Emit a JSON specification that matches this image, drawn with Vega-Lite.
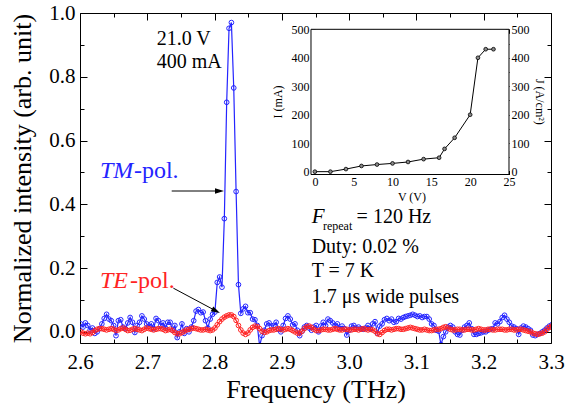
{
"$schema":"https://vega.github.io/schema/vega-lite/v6.json",
"width":471,"height":330,
"autosize":{"type":"none"},
"padding":{"left":80,"top":13,"right":18,"bottom":62},
"background":"white",
"config":{"font":"Liberation Serif","view":{"stroke":null},
"axis":{"grid":false,"labelFont":"Liberation Serif","titleFont":"Liberation Serif","titleFontWeight":"normal","labelColor":"black","titleColor":"black","tickColor":"black","domainColor":"black","labelFlush":false,"labelOverlap":false,"tickWidth":1,"domainWidth":1}},
"data":{"values":[
{"f":2.601,"tm":0.025,"te":0.0},{"f":2.6045,"tm":0.015,"te":-0.004},{"f":2.608,"tm":0.028,"te":-0.006},{"f":2.6115,"tm":0.02,"te":-0.004},{"f":2.615,"tm":0.005,"te":-0.006},{"f":2.6185,"tm":0.012,"te":-0.002},{"f":2.622,"tm":-0.005,"te":0.004},{"f":2.6255,"tm":0.0,"te":0.008},{"f":2.629,"tm":0.01,"te":0.01},{"f":2.6325,"tm":0.025,"te":0.01},
{"f":2.636,"tm":0.042,"te":0.008},{"f":2.6395,"tm":0.055,"te":0.006},{"f":2.643,"tm":0.04,"te":0.008},{"f":2.6465,"tm":0.035,"te":0.01},{"f":2.65,"tm":0.02,"te":0.008},{"f":2.6535,"tm":-0.012,"te":0.004},{"f":2.657,"tm":0.035,"te":0.006},{"f":2.6605,"tm":0.038,"te":0.01},{"f":2.664,"tm":0.015,"te":0.012},{"f":2.6675,"tm":0.01,"te":0.008},
{"f":2.671,"tm":0.028,"te":0.004},{"f":2.6745,"tm":0.045,"te":0.005},{"f":2.678,"tm":0.03,"te":0.008},{"f":2.6815,"tm":-0.002,"te":0.01},{"f":2.685,"tm":0.02,"te":0.008},{"f":2.6885,"tm":0.03,"te":0.006},{"f":2.692,"tm":0.05,"te":0.004},{"f":2.6955,"tm":0.04,"te":0.008},{"f":2.699,"tm":0.025,"te":0.012},{"f":2.7025,"tm":0.018,"te":0.01},
{"f":2.706,"tm":0.025,"te":0.008},{"f":2.7095,"tm":0.01,"te":0.006},{"f":2.713,"tm":0.042,"te":0.008},{"f":2.7165,"tm":0.035,"te":0.01},{"f":2.72,"tm":0.02,"te":0.01},{"f":2.7235,"tm":0.028,"te":0.008},{"f":2.727,"tm":0.012,"te":0.004},{"f":2.7305,"tm":0.03,"te":0.006},{"f":2.734,"tm":0.03,"te":0.008},{"f":2.7375,"tm":0.005,"te":0.004},
{"f":2.741,"tm":0.02,"te":-0.002},{"f":2.7445,"tm":-0.018,"te":-0.006},{"f":2.748,"tm":0.0,"te":-0.006},{"f":2.7515,"tm":0.025,"te":-0.002},{"f":2.755,"tm":-0.005,"te":0.002},{"f":2.7585,"tm":0.01,"te":0.006},{"f":2.762,"tm":0.0,"te":0.008},{"f":2.7655,"tm":0.015,"te":0.01},{"f":2.769,"tm":0.035,"te":0.012},{"f":2.7725,"tm":0.065,"te":0.01},
{"f":2.776,"tm":0.07,"te":0.008},{"f":2.7795,"tm":0.06,"te":0.006},{"f":2.783,"tm":0.062,"te":0.006},{"f":2.7865,"tm":0.035,"te":0.008},{"f":2.79,"tm":0.012,"te":0.006},{"f":2.7935,"tm":0.04,"te":0.004},{"f":2.797,"tm":0.055,"te":0.006},{"f":2.8005,"tm":0.062,"te":0.012},{"f":2.804,"tm":0.155,"te":0.022},{"f":2.8075,"tm":0.172,"te":0.032},
{"f":2.811,"tm":0.14,"te":0.04},{"f":2.8145,"tm":0.355,"te":0.046},{"f":2.818,"tm":0.72,"te":0.05},{"f":2.8215,"tm":0.952,"te":0.053},{"f":2.825,"tm":0.97,"te":0.053},{"f":2.8285,"tm":0.765,"te":0.048},{"f":2.832,"tm":0.44,"te":0.036},{"f":2.8355,"tm":0.148,"te":0.02},{"f":2.839,"tm":0.058,"te":0.006},{"f":2.8425,"tm":0.072,"te":-0.004},
{"f":2.846,"tm":0.08,"te":-0.008},{"f":2.8495,"tm":0.06,"te":-0.004},{"f":2.853,"tm":0.06,"te":0.006},{"f":2.8565,"tm":0.04,"te":0.014},{"f":2.86,"tm":0.038,"te":0.018},{"f":2.8635,"tm":0.02,"te":0.016},{"f":2.867,"tm":-0.045,"te":0.01},{"f":2.8705,"tm":-0.012,"te":0.002},{"f":2.874,"tm":0.005,"te":-0.002},{"f":2.8775,"tm":0.025,"te":0.0},
{"f":2.881,"tm":0.028,"te":0.004},{"f":2.8845,"tm":0.018,"te":0.006},{"f":2.888,"tm":0.02,"te":0.006},{"f":2.8915,"tm":0.03,"te":0.008},{"f":2.895,"tm":0.008,"te":0.01},{"f":2.8985,"tm":0.0,"te":0.008},{"f":2.902,"tm":0.02,"te":0.006},{"f":2.9055,"tm":0.042,"te":0.008},{"f":2.909,"tm":0.05,"te":0.01},{"f":2.9125,"tm":0.04,"te":0.008},
{"f":2.916,"tm":0.022,"te":0.004},{"f":2.9195,"tm":0.025,"te":0.0},{"f":2.923,"tm":0.005,"te":-0.004},{"f":2.9265,"tm":-0.012,"te":-0.004},{"f":2.93,"tm":0.002,"te":0.002},{"f":2.9335,"tm":0.015,"te":0.01},{"f":2.937,"tm":0.02,"te":0.016},{"f":2.9405,"tm":0.012,"te":0.018},{"f":2.944,"tm":0.005,"te":0.014},{"f":2.9475,"tm":0.015,"te":0.008},
{"f":2.951,"tm":0.02,"te":0.004},{"f":2.9545,"tm":0.0,"te":0.004},{"f":2.958,"tm":0.018,"te":0.006},{"f":2.9615,"tm":0.03,"te":0.008},{"f":2.965,"tm":0.02,"te":0.008},{"f":2.9685,"tm":0.04,"te":0.006},{"f":2.972,"tm":0.035,"te":0.006},{"f":2.9755,"tm":0.028,"te":0.008},{"f":2.979,"tm":0.02,"te":0.01},{"f":2.9825,"tm":0.025,"te":0.008},
{"f":2.986,"tm":0.01,"te":0.006},{"f":2.9895,"tm":0.018,"te":0.006},{"f":2.993,"tm":0.01,"te":0.008},{"f":2.9965,"tm":-0.01,"te":0.008},{"f":3.0,"tm":0.005,"te":0.006},{"f":3.0035,"tm":0.018,"te":0.006},{"f":3.007,"tm":0.02,"te":0.008},{"f":3.0105,"tm":0.012,"te":0.008},{"f":3.014,"tm":0.015,"te":0.006},{"f":3.0175,"tm":0.01,"te":0.008},
{"f":3.021,"tm":0.008,"te":0.01},{"f":3.0245,"tm":0.012,"te":0.008},{"f":3.028,"tm":0.02,"te":0.006},{"f":3.0315,"tm":0.01,"te":0.008},{"f":3.035,"tm":0.025,"te":0.006},{"f":3.0385,"tm":0.032,"te":0.002},{"f":3.042,"tm":-0.004,"te":-0.006},{"f":3.0455,"tm":0.018,"te":-0.008},{"f":3.049,"tm":0.025,"te":-0.002},{"f":3.0525,"tm":0.038,"te":0.004},
{"f":3.056,"tm":0.042,"te":0.008},{"f":3.0595,"tm":0.035,"te":0.008},{"f":3.063,"tm":0.04,"te":0.006},{"f":3.0665,"tm":0.03,"te":0.008},{"f":3.07,"tm":0.032,"te":0.01},{"f":3.0735,"tm":0.042,"te":0.01},{"f":3.077,"tm":0.04,"te":0.008},{"f":3.0805,"tm":0.045,"te":0.008},{"f":3.084,"tm":0.048,"te":0.01},{"f":3.0875,"tm":0.05,"te":0.012},
{"f":3.091,"tm":0.052,"te":0.014},{"f":3.0945,"tm":0.055,"te":0.012},{"f":3.098,"tm":0.052,"te":0.01},{"f":3.1015,"tm":0.048,"te":0.008},{"f":3.105,"tm":0.05,"te":0.006},{"f":3.1085,"tm":0.045,"te":0.006},{"f":3.112,"tm":0.048,"te":0.008},{"f":3.1155,"tm":0.048,"te":0.006},{"f":3.119,"tm":0.04,"te":0.004},{"f":3.1225,"tm":0.025,"te":0.004},
{"f":3.126,"tm":0.02,"te":0.006},{"f":3.1295,"tm":0.005,"te":0.008},{"f":3.133,"tm":0.002,"te":0.008},{"f":3.1365,"tm":-0.04,"te":0.01},{"f":3.14,"tm":-0.015,"te":0.014},{"f":3.1435,"tm":0.0,"te":0.016},{"f":3.147,"tm":0.015,"te":0.012},{"f":3.1505,"tm":0.02,"te":0.008},{"f":3.154,"tm":0.015,"te":0.006},{"f":3.1575,"tm":0.0,"te":0.006},
{"f":3.161,"tm":-0.008,"te":0.008},{"f":3.1645,"tm":-0.01,"te":0.008},{"f":3.168,"tm":0.005,"te":0.006},{"f":3.1715,"tm":0.015,"te":0.006},{"f":3.175,"tm":0.02,"te":0.008},{"f":3.1785,"tm":0.028,"te":0.008},{"f":3.182,"tm":0.01,"te":0.006},{"f":3.1855,"tm":-0.008,"te":0.006},{"f":3.189,"tm":-0.008,"te":0.008},{"f":3.1925,"tm":-0.005,"te":0.01},
{"f":3.196,"tm":-0.003,"te":0.008},{"f":3.1995,"tm":0.0,"te":0.006},{"f":3.203,"tm":0.0,"te":0.006},{"f":3.2065,"tm":0.005,"te":0.008},{"f":3.21,"tm":0.008,"te":0.008},{"f":3.2135,"tm":0.01,"te":0.006},{"f":3.217,"tm":0.028,"te":0.006},{"f":3.2205,"tm":0.025,"te":0.008},{"f":3.224,"tm":0.032,"te":0.008},{"f":3.2275,"tm":0.045,"te":0.008},
{"f":3.231,"tm":0.052,"te":0.006},{"f":3.2345,"tm":0.04,"te":0.006},{"f":3.238,"tm":0.03,"te":0.008},{"f":3.2415,"tm":0.018,"te":0.008},{"f":3.245,"tm":0.015,"te":0.006},{"f":3.2485,"tm":0.01,"te":0.006},{"f":3.252,"tm":-0.008,"te":0.008},{"f":3.2555,"tm":0.012,"te":0.008},{"f":3.259,"tm":0.018,"te":0.006},{"f":3.2625,"tm":0.015,"te":0.004},
{"f":3.266,"tm":0.01,"te":0.002},{"f":3.2695,"tm":0.005,"te":0.0},{"f":3.273,"tm":-0.01,"te":-0.004},{"f":3.2765,"tm":-0.012,"te":-0.006},{"f":3.28,"tm":-0.008,"te":-0.008},{"f":3.2835,"tm":-0.005,"te":-0.006},{"f":3.287,"tm":0.0,"te":-0.004},{"f":3.2905,"tm":0.005,"te":0.0},{"f":3.294,"tm":0.012,"te":0.008},{"f":3.2975,"tm":0.018,"te":0.014},
{"f":3.301,"tm":0.022,"te":0.018}
]},
"resolve":{"scale":{"x":"independent","y":"independent"},"axis":{"x":"independent","y":"independent"}},
"layer":[
{"mark":{"type":"line","color":"#2424ff","strokeWidth":1.2,"clip":true},
 "encoding":{
  "x":{"field":"f","type":"quantitative","scale":{"domain":[2.6,3.3],"nice":false,"zero":false},"axis":{"orient":"bottom","values":[2.6,2.7,2.8,2.9,3.0,3.1,3.2,3.3],"format":".1f","tickSize":-7,"labelFontSize":21,"labelPadding":15,"title":"Frequency (THz)","titleFontSize":26,"titlePadding":4}},
  "y":{"field":"tm","type":"quantitative","scale":{"domain":[-0.035,1.0],"nice":false,"zero":false},"axis":{"orient":"left","values":[0,0.2,0.4,0.6,0.8,1.0],"format":".1f","tickSize":-7,"labelFontSize":21,"labelPadding":12,"title":"Normalized intensity (arb. unit)","titleFontSize":26,"titlePadding":13}}}},
{"mark":{"type":"point","filled":false,"size":22,"stroke":"#2424ff","strokeWidth":1,"opacity":1,"clip":true},
 "encoding":{
  "x":{"field":"f","type":"quantitative","scale":{"domain":[2.6,3.3],"nice":false,"zero":false},"axis":{"orient":"bottom","values":[2.65,2.75,2.85,2.95,3.05,3.15,3.25],"tickSize":-4,"labels":false,"domain":false,"title":null}},
  "y":{"field":"tm","type":"quantitative","scale":{"domain":[-0.035,1.0],"nice":false,"zero":false},"axis":{"orient":"left","values":[0.1,0.3,0.5,0.7,0.9],"tickSize":-4,"labels":false,"domain":false,"title":null}}}},
{"mark":{"type":"line","color":"#ff2424","strokeWidth":1.2,"clip":true},
 "encoding":{
  "x":{"field":"f","type":"quantitative","scale":{"domain":[2.6,3.3],"nice":false,"zero":false},"axis":{"orient":"top","values":[2.6,2.7,2.8,2.9,3.0,3.1,3.2,3.3],"tickSize":-7,"labels":false,"title":null}},
  "y":{"field":"te","type":"quantitative","scale":{"domain":[-0.035,1.0],"nice":false,"zero":false},"axis":{"orient":"right","values":[0,0.2,0.4,0.6,0.8,1.0],"tickSize":-7,"labels":false,"title":null}}}},
{"mark":{"type":"point","filled":false,"size":22,"stroke":"#ff2424","strokeWidth":1,"opacity":1,"clip":true},
 "encoding":{
  "x":{"field":"f","type":"quantitative","scale":{"domain":[2.6,3.3],"nice":false,"zero":false},"axis":{"orient":"top","values":[2.65,2.75,2.85,2.95,3.05,3.15,3.25],"tickSize":-4,"labels":false,"domain":false,"title":null}},
  "y":{"field":"te","type":"quantitative","scale":{"domain":[-0.035,1.0],"nice":false,"zero":false},"axis":{"orient":"right","values":[0.1,0.3,0.5,0.7,0.9],"tickSize":-4,"labels":false,"domain":false,"title":null}}}},
{"data":{"values":[{}]},"mark":{"type":"rule","color":"black","strokeWidth":1},
 "encoding":{"x":{"datum":2.7363,"type":"quantitative","scale":{"domain":[2.6,3.3],"nice":false,"zero":false},"axis":null},"x2":{"datum":2.8073},
  "y":{"datum":0.4417,"type":"quantitative","scale":{"domain":[-0.035,1.0],"nice":false,"zero":false},"axis":null}}},
{"data":{"values":[{}]},"mark":{"type":"point","shape":"M -1 -0.6 L 1 0 L -1 0.6 Z","size":81,"filled":true,"color":"black","opacity":1,"angle":0},
 "encoding":{"x":{"datum":2.8073,"type":"quantitative","scale":{"domain":[2.6,3.3],"nice":false,"zero":false},"axis":null},
  "y":{"datum":0.4417,"type":"quantitative","scale":{"domain":[-0.035,1.0],"nice":false,"zero":false},"axis":null}}},
{"data":{"values":[{}]},"mark":{"type":"rule","color":"black","strokeWidth":1},
 "encoding":{"x":{"datum":2.7387,"type":"quantitative","scale":{"domain":[2.6,3.3],"nice":false,"zero":false},"axis":null},"x2":{"datum":2.8021},
  "y":{"datum":0.1371,"type":"quantitative","scale":{"domain":[-0.035,1.0],"nice":false,"zero":false},"axis":null},"y2":{"datum":0.0656}}},
{"data":{"values":[{}]},"mark":{"type":"point","shape":"M -1 -0.6 L 1 0 L -1 0.6 Z","size":81,"filled":true,"color":"black","opacity":1,"angle":27.9},
 "encoding":{"x":{"datum":2.8021,"type":"quantitative","scale":{"domain":[2.6,3.3],"nice":false,"zero":false},"axis":null},
  "y":{"datum":0.0656,"type":"quantitative","scale":{"domain":[-0.035,1.0],"nice":false,"zero":false},"axis":null}}},
{"data":{"values":[{}]},"mark":{"type":"text","text":"21.0 V","align":"left","baseline":"alphabetic","fontSize":20,"font":"Liberation Serif","color":"black"},
 "encoding":{"x":{"datum":2.714,"type":"quantitative","scale":{"domain":[2.6,3.3],"nice":false,"zero":false},"axis":null},
  "y":{"datum":0.9,"type":"quantitative","scale":{"domain":[-0.035,1.0],"nice":false,"zero":false},"axis":null}}},
{"data":{"values":[{}]},"mark":{"type":"text","text":"400 mA","align":"left","baseline":"alphabetic","fontSize":20,"font":"Liberation Serif","color":"black"},
 "encoding":{"x":{"datum":2.714,"type":"quantitative","scale":{"domain":[2.6,3.3],"nice":false,"zero":false},"axis":null},
  "y":{"datum":0.827,"type":"quantitative","scale":{"domain":[-0.035,1.0],"nice":false,"zero":false},"axis":null}}},
{"data":{"values":[{}]},"mark":{"type":"text","text":"TM","align":"left","baseline":"alphabetic","fontSize":24,"fontStyle":"italic","font":"Liberation Serif","color":"#2424ff"},
 "encoding":{"x":{"datum":2.6297,"type":"quantitative","scale":{"domain":[2.6,3.3],"nice":false,"zero":false},"axis":null},
  "y":{"datum":0.4815,"type":"quantitative","scale":{"domain":[-0.035,1.0],"nice":false,"zero":false},"axis":null}}},
{"data":{"values":[{}]},"mark":{"type":"text","text":"-pol.","align":"left","baseline":"alphabetic","fontSize":24,"font":"Liberation Serif","color":"#2424ff"},
 "encoding":{"x":{"datum":2.6802,"type":"quantitative","scale":{"domain":[2.6,3.3],"nice":false,"zero":false},"axis":null},
  "y":{"datum":0.4815,"type":"quantitative","scale":{"domain":[-0.035,1.0],"nice":false,"zero":false},"axis":null}}},
{"data":{"values":[{}]},"mark":{"type":"text","text":"TE","align":"left","baseline":"alphabetic","fontSize":24,"fontStyle":"italic","font":"Liberation Serif","color":"#ff2424"},
 "encoding":{"x":{"datum":2.6297,"type":"quantitative","scale":{"domain":[2.6,3.3],"nice":false,"zero":false},"axis":null},
  "y":{"datum":0.1365,"type":"quantitative","scale":{"domain":[-0.035,1.0],"nice":false,"zero":false},"axis":null}}},
{"data":{"values":[{}]},"mark":{"type":"text","text":"-pol.","align":"left","baseline":"alphabetic","fontSize":24,"font":"Liberation Serif","color":"#ff2424"},
 "encoding":{"x":{"datum":2.6743,"type":"quantitative","scale":{"domain":[2.6,3.3],"nice":false,"zero":false},"axis":null},
  "y":{"datum":0.1365,"type":"quantitative","scale":{"domain":[-0.035,1.0],"nice":false,"zero":false},"axis":null}}},
{"data":{"values":[{}]},"mark":{"type":"text","text":"F","align":"left","baseline":"alphabetic","fontSize":21,"fontStyle":"italic","font":"Liberation Serif","color":"black"},
 "encoding":{"x":{"datum":2.9443,"type":"quantitative","scale":{"domain":[2.6,3.3],"nice":false,"zero":false},"axis":null},
  "y":{"datum":0.3403,"type":"quantitative","scale":{"domain":[-0.035,1.0],"nice":false,"zero":false},"axis":null}}},
{"data":{"values":[{}]},"mark":{"type":"text","text":"repeat","align":"left","baseline":"alphabetic","fontSize":12,"font":"Liberation Serif","color":"black"},
 "encoding":{"x":{"datum":2.9611,"type":"quantitative","scale":{"domain":[2.6,3.3],"nice":false,"zero":false},"axis":null},
  "y":{"datum":0.3193,"type":"quantitative","scale":{"domain":[-0.035,1.0],"nice":false,"zero":false},"axis":null}}},
{"data":{"values":[{}]},"mark":{"type":"text","text":"= 120 Hz","align":"left","baseline":"alphabetic","fontSize":20,"font":"Liberation Serif","color":"black"},
 "encoding":{"x":{"datum":3.0111,"type":"quantitative","scale":{"domain":[2.6,3.3],"nice":false,"zero":false},"axis":null},
  "y":{"datum":0.3403,"type":"quantitative","scale":{"domain":[-0.035,1.0],"nice":false,"zero":false},"axis":null}}},
{"data":{"values":[{}]},"mark":{"type":"text","text":"Duty: 0.02 %","align":"left","baseline":"alphabetic","fontSize":20,"font":"Liberation Serif","color":"black"},
 "encoding":{"x":{"datum":2.9443,"type":"quantitative","scale":{"domain":[2.6,3.3],"nice":false,"zero":false},"axis":null},
  "y":{"datum":0.2481,"type":"quantitative","scale":{"domain":[-0.035,1.0],"nice":false,"zero":false},"axis":null}}},
{"data":{"values":[{}]},"mark":{"type":"text","text":"T = 7 K","align":"left","baseline":"alphabetic","fontSize":20,"font":"Liberation Serif","color":"black"},
 "encoding":{"x":{"datum":2.9443,"type":"quantitative","scale":{"domain":[2.6,3.3],"nice":false,"zero":false},"axis":null},
  "y":{"datum":0.1728,"type":"quantitative","scale":{"domain":[-0.035,1.0],"nice":false,"zero":false},"axis":null}}},
{"data":{"values":[{}]},"mark":{"type":"text","text":"1.7 μs wide pulses","align":"left","baseline":"alphabetic","fontSize":20,"font":"Liberation Serif","color":"black"},
 "encoding":{"x":{"datum":2.9443,"type":"quantitative","scale":{"domain":[2.6,3.3],"nice":false,"zero":false},"axis":null},
  "y":{"datum":0.0913,"type":"quantitative","scale":{"domain":[-0.035,1.0],"nice":false,"zero":false},"axis":null}}},
{"data":{"values":[{}]},"mark":{"type":"rect","fill":"white","stroke":"black","strokeWidth":1},
 "encoding":{"x":{"datum":-0.5,"type":"quantitative","scale":{"domain":[-30.25,30.41],"nice":false,"zero":false},"axis":{"orient":"bottom","offset":-168.5,"values":[0,5,10,15,20,25],"tickSize":-4,"domain":false,"labelFontSize":12,"labelPadding":6,"title":null}},"x2":{"datum":25},
  "y":{"datum":-10,"type":"quantitative","scale":{"domain":[-601.8,557.25],"nice":false,"zero":false},"axis":{"orient":"left","offset":-231,"values":[0,100,200,300,400,500],"tickSize":-4,"domain":false,"labelFontSize":12,"labelPadding":6,"title":null}},"y2":{"datum":500}}},
{"data":{"name":"iv","values":[{"v":0,"i":0},{"v":2,"i":0},{"v":4,"i":9},{"v":6,"i":20},{"v":8,"i":25},{"v":10,"i":29},{"v":12,"i":34},{"v":14,"i":44},{"v":16,"i":49},{"v":16.7,"i":80},{"v":18,"i":119},{"v":20,"i":200},{"v":21,"i":400},{"v":22,"i":430},{"v":23,"i":430}]},
 "mark":{"type":"line","color":"black","strokeWidth":1},
 "encoding":{"x":{"field":"v","type":"quantitative","scale":{"domain":[-30.25,30.41],"nice":false,"zero":false},"axis":{"orient":"top","offset":-16.3,"values":[0,5,10,15,20,25],"tickSize":-4,"domain":false,"labels":false,"title":null}},
  "y":{"field":"i","type":"quantitative","scale":{"domain":[-601.8,557.25],"nice":false,"zero":false},"axis":{"orient":"right","offset":-42,"values":[0,100,200,300,400,500],"tickSize":-4,"domain":false,"labelFontSize":12,"labelPadding":6,"title":null}}}},
{"data":{"name":"iv"},
 "mark":{"type":"point","filled":true,"size":14,"fill":"#8a8a8a","stroke":"black","strokeWidth":0.8,"opacity":1},
 "encoding":{"x":{"field":"v","type":"quantitative","scale":{"domain":[-30.25,30.41],"nice":false,"zero":false},"axis":{"orient":"top","offset":-16.3,"values":[2.5,7.5,12.5,17.5,22.5],"tickSize":-2,"domain":false,"labels":false,"title":null}},
  "y":{"field":"i","type":"quantitative","scale":{"domain":[-601.8,557.25],"nice":false,"zero":false},"axis":{"orient":"right","offset":-42,"values":[50,150,250,350,450],"tickSize":-2,"domain":false,"labels":false,"title":null}}}},
{"data":{"name":"iv"},
 "mark":{"type":"point","opacity":0},
 "encoding":{"x":{"field":"v","type":"quantitative","scale":{"domain":[-30.25,30.41],"nice":false,"zero":false},"axis":{"orient":"bottom","offset":-168.5,"values":[2.5,7.5,12.5,17.5,22.5],"tickSize":-2,"domain":false,"labels":false,"title":null}},
  "y":{"field":"i","type":"quantitative","scale":{"domain":[-601.8,557.25],"nice":false,"zero":false},"axis":{"orient":"left","offset":-231,"values":[50,150,250,350,450],"tickSize":-2,"domain":false,"labels":false,"title":null}}}},
{"data":{"values":[{}]},"mark":{"type":"text","text":"I (mA)","align":"center","baseline":"middle","angle":270,"fontSize":12,"font":"Liberation Serif","color":"black"},
 "encoding":{"x":{"datum":-4.7,"type":"quantitative","scale":{"domain":[-30.25,30.41],"nice":false,"zero":false},"axis":null},
  "y":{"datum":245,"type":"quantitative","scale":{"domain":[-601.8,557.25],"nice":false,"zero":false},"axis":null}}},
{"data":{"values":[{}]},"mark":{"type":"text","text":"V (V)","align":"center","baseline":"middle","fontSize":12,"font":"Liberation Serif","color":"black"},
 "encoding":{"x":{"datum":12.5,"type":"quantitative","scale":{"domain":[-30.25,30.41],"nice":false,"zero":false},"axis":null},
  "y":{"datum":-89,"type":"quantitative","scale":{"domain":[-601.8,557.25],"nice":false,"zero":false},"axis":null}}},
{"data":{"values":[{}]},"mark":{"type":"text","text":"J (A/cm²)","align":"center","baseline":"middle","angle":90,"fontSize":12,"font":"Liberation Serif","color":"black"},
 "encoding":{"x":{"datum":29.0,"type":"quantitative","scale":{"domain":[-30.25,30.41],"nice":false,"zero":false},"axis":null},
  "y":{"datum":245,"type":"quantitative","scale":{"domain":[-601.8,557.25],"nice":false,"zero":false},"axis":null}}}
]
}
